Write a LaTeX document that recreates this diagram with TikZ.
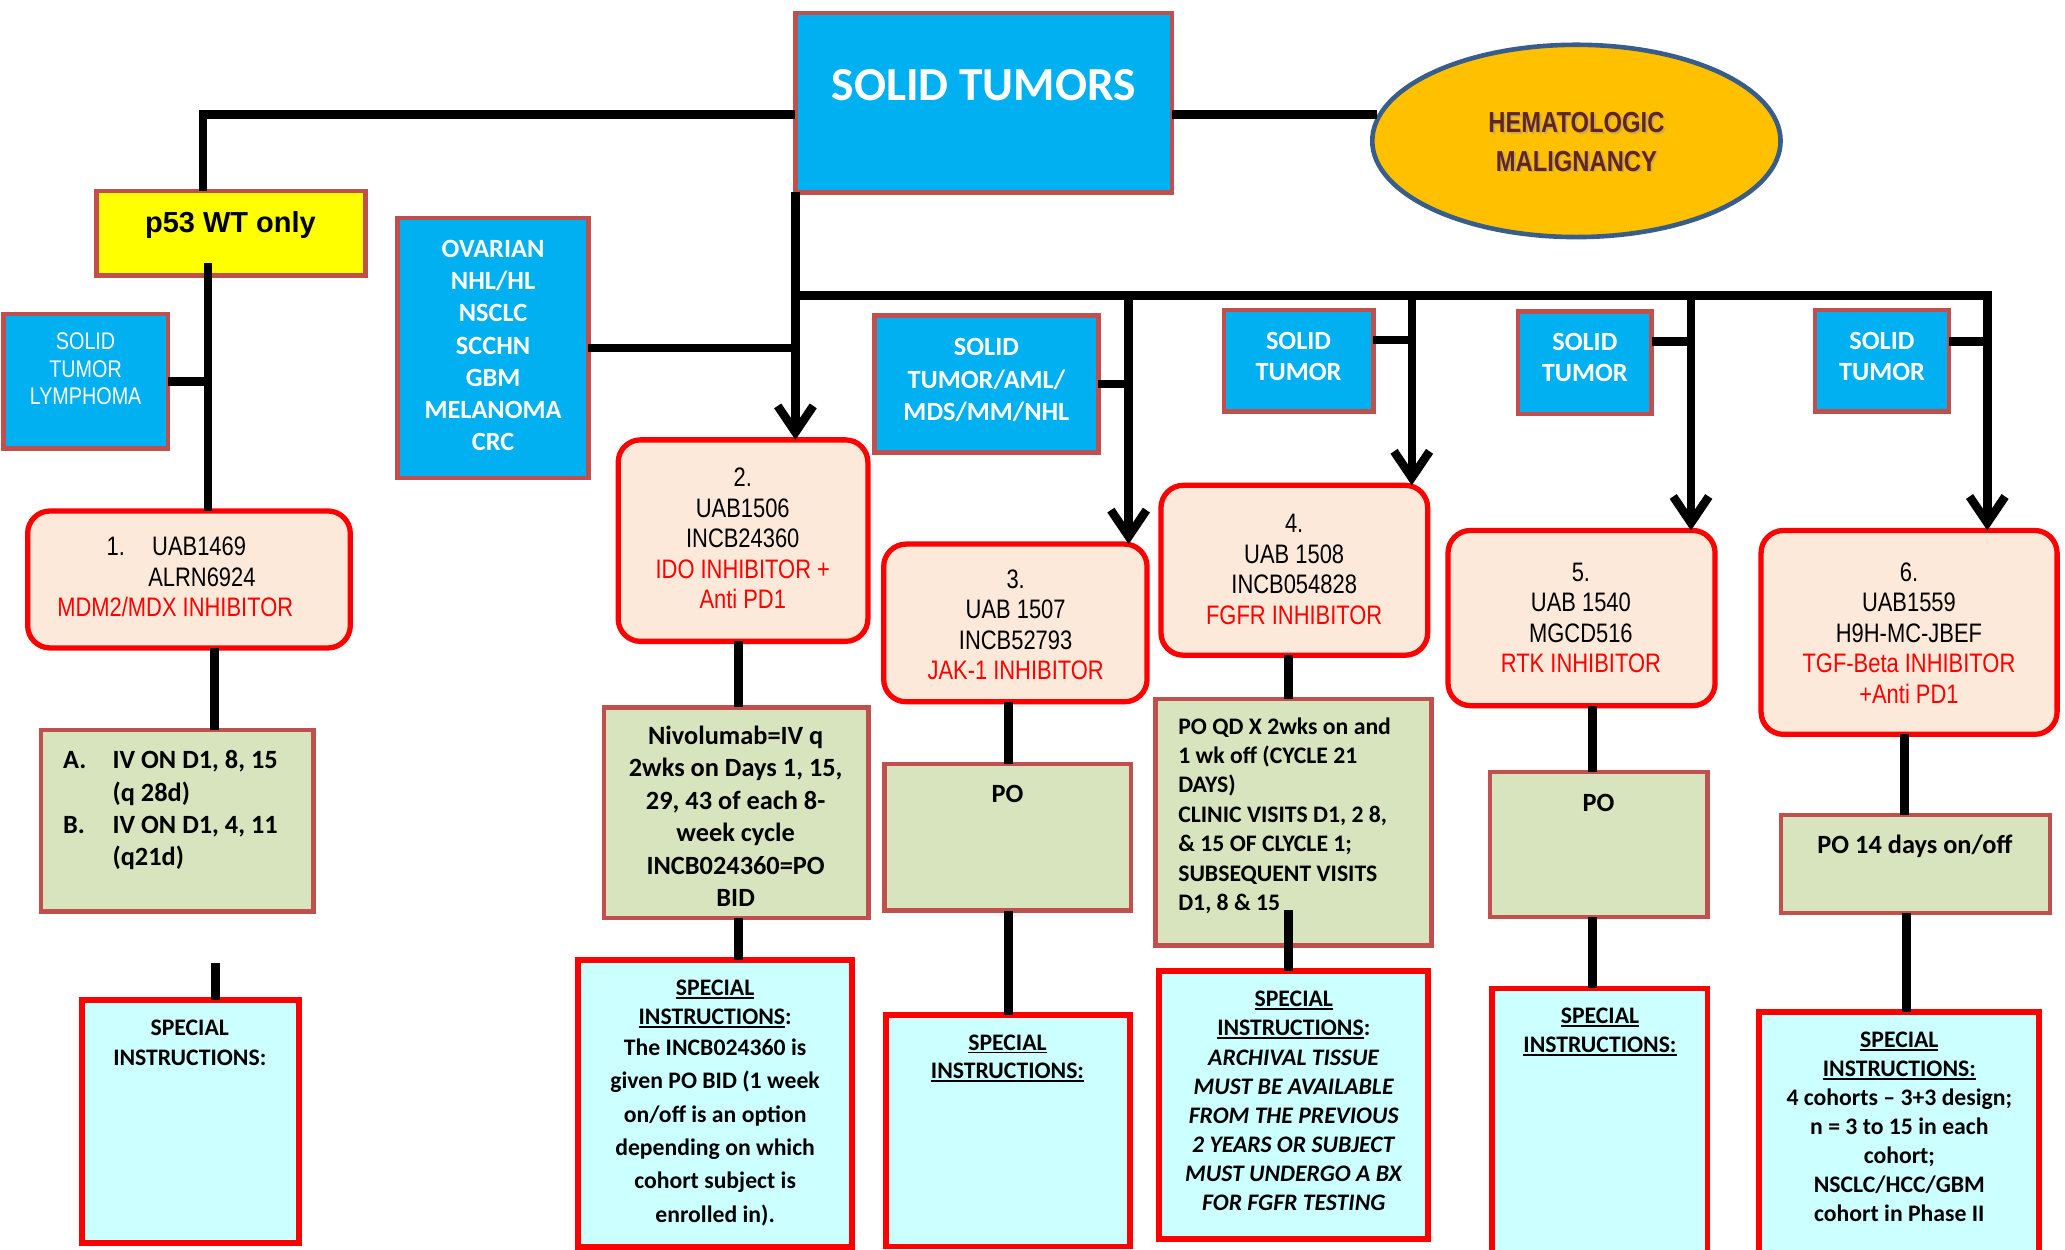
\documentclass[tikz,border=0pt]{standalone}
\usepackage{fontspec}
\setmainfont{Carlito}
\newfontfamily\narrowfont[FakeStretch=0.82]{Liberation Sans}
\newfontfamily\arialfont{Liberation Sans}
\usetikzlibrary{arrows.meta,shapes.geometric,calc}
\definecolor{blueF}{HTML}{00B0F0}
\definecolor{brownB}{HTML}{C0504D}
\definecolor{peachF}{HTML}{FDE9D9}
\definecolor{greenF}{HTML}{D7E4BD}
\definecolor{cyanF}{HTML}{CCFFFF}
\definecolor{ellF}{HTML}{FFC000}
\definecolor{ellB}{HTML}{385D8A}
\definecolor{hmT}{HTML}{632523}
\definecolor{redT}{HTML}{FF0000}
\definecolor{yelF}{HTML}{FFFF00}
\newcommand\tp{\rule{0pt}{20pt}}
\newcommand\myul[1]{\setbox0=\hbox{#1}\rlap{\rule[-2.3pt]{\wd0}{1.3pt}}\box0}
\begin{document}
\begin{tikzpicture}[x=1pt,y=-1pt,
  box/.style={inner sep=0pt,outer sep=0pt},
  bluebox/.style={box,fill=blueF,draw=brownB,line width=3.5pt},
  ybox/.style={box,fill=yelF,draw=brownB,line width=3.5pt},
  rbox/.style={box,fill=peachF,draw=redT,line width=4pt,rounded corners=17pt},
  gbox/.style={box,fill=greenF,draw=brownB,line width=3.5pt},
  sbox/.style={box,fill=cyanF,draw=redT,line width=4.5pt},
  conn/.style={line width=6.5pt,black},
  arr/.style={conn,-{Straight Barb[length=20pt,width=27pt]}},
  tx/.style={inner sep=0pt,outer sep=0pt,align=center,anchor=north},
  tbase/.style={inner sep=0pt,outer sep=0pt,anchor=base},
  wt/.style={tx,text=white,font=\bfseries\fontsize{20}{24.5}\selectfont},
  wt2/.style={tx,text=white,font=\bfseries\fontsize{20}{23.5}\selectfont},
  rt/.style={tx,font=\narrowfont\fontsize{20.3}{23.2}\selectfont},
  gt/.style={tx,font=\bfseries\fontsize{20}{24.6}\selectfont},
  st18/.style={tx,font=\bfseries\fontsize{18}{22.1}\selectfont}]
\useasboundingbox (0,0) rectangle (1568,948.4);
\clip (0,0) rectangle (1568,948.4);

% ---- top level
\node[bluebox,minimum width=286pt,minimum height=136pt] (st) at (747,78) {};
\node[tbase,text=white,font=\bfseries\fontsize{36}{40}\selectfont] (stt) at (747,76.4) {SOLID TUMORS};
\node[ellipse,fill=ellF,draw=ellB,line width=3.5pt,inner sep=0pt,minimum width=310pt,minimum height=146pt] (hm) at (1197,107) {};
\node[tx,text=black!40,opacity=0.5,font=\narrowfont\bfseries\fontsize{22}{29}\selectfont] (hmsh) at (1198.4,82.3) {\tp HEMATOLOGIC\\MALIGNANCY};
\node[tx,text=hmT,font=\narrowfont\bfseries\fontsize{22}{29}\selectfont] (hmt) at (1197,80.9) {\tp HEMATOLOGIC\\MALIGNANCY};

\node[ybox,minimum width=204pt,minimum height=64pt] (p53) at (175.5,177) {};
\node[tbase,font=\arialfont\bfseries\fontsize{22}{26}\selectfont] (p53t) at (175,176.9) {p53 WT only};

% ---- blue population boxes
\node[bluebox,minimum width=125pt,minimum height=102pt] (lym) at (65,289.5) {};
\node[tx,text=white,font=\narrowfont\fontsize{18.3}{21}\selectfont] (lymt) at (65,245.5) {\tp SOLID\\TUMOR\\LYMPHOMA};
\node[bluebox,minimum width=144.7pt,minimum height=197.6pt] (ov) at (374.4,264.2) {};
\node[wt] (ovt) at (374.4,175.3) {\tp OVARIAN\\NHL/HL\\NSCLC\\SCCHN\\GBM\\MELANOMA\\CRC};
\node[bluebox,minimum width=170pt,minimum height=104pt] (aml) at (749,291.7) {};
\node[wt] (amlt) at (749,250.3) {\tp SOLID\\TUMOR/AML/\\MDS/MM/NHL};
\node[bluebox,minimum width=113.5pt,minimum height=77.3pt] (stA) at (986,274) {};
\node[wt2] (stAt) at (986,245.7) {\tp SOLID\\TUMOR};
\node[bluebox,minimum width=101.5pt,minimum height=77.5pt] (stB) at (1203.4,275.5) {};
\node[wt2] (stBt) at (1203.4,246.3) {\tp SOLID\\TUMOR};
\node[bluebox,minimum width=101.8pt,minimum height=77.3pt] (stC) at (1429,274) {};
\node[wt2] (stCt) at (1429,245.3) {\tp SOLID\\TUMOR};

% ---- study boxes
\node[rbox,minimum width=245pt,minimum height=104pt] (b1) at (143.5,440) {};
\node[rt,anchor=north west,align=left] (b1t) at (43.5,402) {\tp\hspace*{37.5pt}\makebox[34.6pt][l]{1.}UAB1469\\\hspace*{69.1pt}ALRN6924\\\textcolor{redT}{MDM2/MDX INHIBITOR}};
\node[rbox,minimum width=189.6pt,minimum height=153pt] (b2) at (564.2,410.5) {};
\node[rt] (b2t) at (564,349.6) {\tp 2.\\UAB1506\\INCB24360\\\textcolor{redT}{IDO INHIBITOR +}\\\textcolor{redT}{Anti PD1}};
\node[rbox,minimum width=200pt,minimum height=119.7pt] (b3) at (771,473) {};
\node[rt] (b3t) at (771.2,426.6) {\tp 3.\\UAB 1507\\INCB52793\\\textcolor{redT}{JAK-1 INHIBITOR}};
\node[rbox,minimum width=202.5pt,minimum height=129pt] (b4) at (982.8,433) {};
\node[rt] (b4t) at (982.7,384.3) {\tp 4.\\UAB 1508\\INCB054828\\\textcolor{redT}{FGFR INHIBITOR}};
\node[rbox,minimum width=202.8pt,minimum height=133pt] (b5) at (1200.9,469.3) {};
\node[rt] (b5t) at (1200.4,421.4) {\tp 5.\\UAB 1540\\MGCD516\\\textcolor{redT}{RTK INHIBITOR}};
\node[rbox,minimum width=224.8pt,minimum height=154.8pt] (b6) at (1449.6,480.2) {};
\node[rt] (b6t) at (1449.5,421.4) {\tp 6.\\UAB1559\\H9H-MC-JBEF\\\textcolor{redT}{TGF-Beta INHIBITOR}\\\textcolor{redT}{+Anti PD1}};

% ---- dosing boxes
\node[gbox,minimum width=207pt,minimum height=138pt] (g1) at (134.5,623.3) {};
\node[gt,anchor=north west,align=left,font=\bfseries\fontsize{20}{24.5}\selectfont] (g1t) at (48,563.8) {\tp\makebox[37.5pt][l]{A.}IV ON D1, 8, 15\\\hspace*{37.5pt}(q 28d)\\\makebox[37.5pt][l]{B.}IV ON D1, 4, 11\\\hspace*{37.5pt}(q21d)};
\node[gbox,minimum width=201pt,minimum height=160pt] (g2) at (559,617) {};
\node[gt] (g2t) at (558.6,545.3) {\tp Nivolumab=IV q\\2wks on Days 1, 15,\\29, 43 of each 8-\\week cycle\\INCB024360=PO\\BID};
\node[gbox,minimum width=187.3pt,minimum height=111.4pt] (g3) at (765.2,635.7) {};
\node[tbase,font=\bfseries\fontsize{20}{24}\selectfont] (g3t) at (765,609.4) {PO};
\node[gbox,minimum width=209.8pt,minimum height=187.3pt] (g4) at (982.1,624.4) {};
\node[tx,anchor=north west,align=left,font=\bfseries\fontsize{18}{22.3}\selectfont] (g4t) at (894.7,537.5) {\tp PO QD X 2wks on and\\1 wk off (CYCLE 21\\DAYS)\\CLINIC VISITS D1, 2 8,\\\& 15 OF CLYCLE 1;\\SUBSEQUENT VISITS\\D1, 8 \& 15};
\node[gbox,minimum width=164.8pt,minimum height=110pt] (g5) at (1213.9,641.2) {};
\node[tbase,font=\bfseries\fontsize{20}{24}\selectfont] (g5t) at (1213.7,616.2) {PO};
\node[gbox,minimum width=204.3pt,minimum height=74.5pt] (g6) at (1454.5,656) {};
\node[tbase,font=\bfseries\fontsize{20}{24}\selectfont] (g6t) at (1454,647.9) {PO 14 days on/off};

% ---- special instructions
\node[sbox,minimum width=164.7pt,minimum height=184.5pt] (s1) at (144.4,851.3) {};
\node[st18,font=\bfseries\fontsize{18}{22.4}\selectfont] (s1t) at (144.1,766.3) {\tp SPECIAL\\INSTRUCTIONS:};
\node[sbox,minimum width=207.8pt,minimum height=217.3pt] (s2) at (542.9,837.9) {};
\node[st18,font=\bfseries\fontsize{18}{22}\selectfont] (s2t) at (543,736.2) {\tp\myul{SPECIAL}\\\myul{INSTRUCTIONS}:\\[1pt]The INCB024360 is\\[3.4pt]given PO BID (1 week\\[3.4pt]on/off is an option\\[3.4pt]depending on which\\[3.4pt]cohort subject is\\[3.4pt]enrolled in).};
\node[sbox,minimum width=185.4pt,minimum height=176pt] (s3) at (765.1,858.5) {};
\node[st18,font=\bfseries\fontsize{18}{21.7}\selectfont] (s3t) at (765,777.5) {\tp\myul{SPECIAL}\\\myul{INSTRUCTIONS:}};
\node[sbox,minimum width=204pt,minimum height=203.4pt] (s4) at (982.2,838.8) {};
\node[st18] (s4t) at (982.4,744.5) {\tp\myul{SPECIAL}\\\myul{INSTRUCTIONS}:\\\textit{ARCHIVAL TISSUE}\\\textit{MUST BE AVAILABLE}\\\textit{FROM THE PREVIOUS}\\\textit{2 YEARS OR SUBJECT}\\\textit{MUST UNDERGO A BX}\\\textit{FOR FGFR TESTING}};
\node[sbox,minimum width=163.5pt,minimum height=209.5pt] (s5) at (1214.8,855.3) {};
\node[st18] (s5t) at (1214.9,757.2) {\tp\myul{SPECIAL}\\\myul{INSTRUCTIONS:}};
\node[sbox,minimum width=212.6pt,minimum height=191.6pt] (s6) at (1441.9,864.2) {};
\node[st18,font=\bfseries\fontsize{18}{22}\selectfont] (s6t) at (1442.2,775.6) {\tp\myul{SPECIAL}\\\myul{INSTRUCTIONS:}\\4 cohorts – 3+3 design;\\n = 3 to 15 in each\\cohort;\\NSCLC/HCC/GBM\\cohort in Phase II};

% ---- connector coordinates
\coordinate (cL) at (154,87);
\coordinate (cV) at (158,200);
\coordinate (cB) at (604,224.5);
\coordinate (c3) at (857,224.5);
\coordinate (c4) at (1072,224.5);
\coordinate (c5) at (1284,224.5);
\coordinate (cR) at (1509,224.5);
\coordinate (kA) at (1072,258);
\coordinate (kB) at (1284,259.3);
\coordinate (kC) at (1509,259.3);
\coordinate (x1) at (162.7,0);
\coordinate (e1) at (163.6,731);
\coordinate (x2) at (560.6,0);
\coordinate (x3) at (765.6,0);
\coordinate (x4) at (978.4,0);
\coordinate (e4) at (978.4,691.3);
\coordinate (x5) at (1209,0);
\coordinate (x6) at (1446.2,0);
\coordinate (x6b) at (1447.7,0);

% ---- connectors
\draw[conn] (st.west |- cL) -- (cL) -- (cL |- p53.north);
\draw[conn] (st.east |- cL) -- ($(hm.west |- cL)+(5,0)$);
\draw[conn] (cV) -- (cV |- b1.north);
\draw[conn] (lym.east) -- (lym.east -| cV);
\draw[arr] (st.south -| cB) -- (b2.north -| cB);
\draw[conn] (ov.east) -- (ov.east -| cB);
\draw[arr] (cB) -- (cR) -- (cR |- b6.north);
\draw[arr] (c3) -- (c3 |- b3.north);
\draw[arr] (c4) -- (c4 |- b4.north);
\draw[arr] (c5) -- (c5 |- b5.north);
\draw[conn] (aml.east) -- (aml.east -| c3);
\draw[conn] (stA.east |- kA) -- (kA);
\draw[conn] (stB.east |- kB) -- (kB);
\draw[conn] (stC.east |- kC) -- (kC);
\draw[conn] (b1.south -| x1) -- (g1.north -| x1);
\draw[conn] (e1) -- (e1 |- s1.north);
\draw[conn] (b2.south -| x2) -- (g2.north -| x2);
\draw[conn] (g2.south -| x2) -- (s2.north -| x2);
\draw[conn] (b3.south -| x3) -- (g3.north -| x3);
\draw[conn] (g3.south -| x3) -- (s3.north -| x3);
\draw[conn] (b4.south -| x4) -- (g4.north -| x4);
\draw[conn] (e4) -- (e4 |- s4.north);
\draw[conn] (b5.south -| x5) -- (g5.north -| x5);
\draw[conn] (g5.south -| x5) -- (s5.north -| x5);
\draw[conn] (b6.south -| x6) -- (g6.north -| x6);
\draw[conn] (g6.south -| x6b) -- (s6.north -| x6b);
\end{tikzpicture}
\end{document}
